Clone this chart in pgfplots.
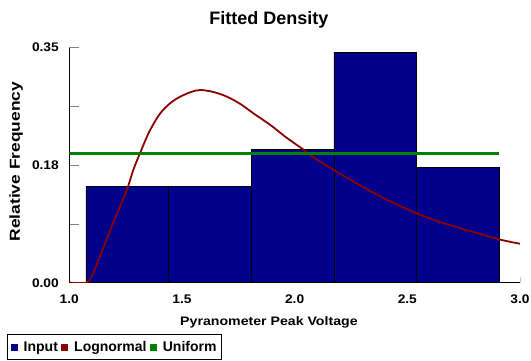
\documentclass[border=0pt]{standalone}
\usepackage{pgfplots}
\pgfplotsset{compat=1.18}
\usepackage{fontspec}
\setmainfont{Liberation Sans}
\newfontfamily\tickfont[FakeStretch=1.1]{Liberation Sans}
\newfontfamily\xlabfont[FakeStretch=1.15]{Liberation Sans}
\newfontfamily\ylabfont[FakeStretch=1.2]{Liberation Sans}
\definecolor{barblue}{RGB}{0,0,139}
\definecolor{lognred}{RGB}{139,0,0}
\definecolor{unigreen}{RGB}{0,128,0}
\begin{document}
\begin{tikzpicture}
\useasboundingbox (-69.3pt,-78.3pt) rectangle ++(531pt,361pt);
\begin{axis}[
  at={(0,0)}, anchor=south west,
  scale only axis, width=450.7pt, height=235pt,
  xmin=1, xmax=3, ymin=0, ymax=0.35,
  axis x line*=bottom, axis y line*=left,
  axis line style={black, line width=0.8pt},
  xtick={1,1.5,2,2.5,3}, xticklabels={1.0,1.5,2.0,2.5,3.0},
  ytick={0,0.0875,0.175,0.2625,0.35}, yticklabels={0.00,,0.18,,0.35},
  tick align=inside,
  xtick style={draw=gray!40, line width=0.8pt, /pgfplots/major tick length=6pt},
  ytick style={draw=gray, line width=0.6pt, /pgfplots/major tick length=10pt},
  tick label style={font=\fontsize{12.5}{14}\tickfont\bfseries},
  xticklabel style={yshift=-9pt},
  yticklabel style={xshift=-7pt},
  title={Fitted Density},
  title style={font=\fontsize{18}{20}\selectfont\bfseries, at={(axis description cs:0.443,1)}, anchor=base, yshift=17.4pt},
  xlabel={Pyranometer Peak Voltage},
  xlabel style={font=\fontsize{12.3}{14}\xlabfont\bfseries, at={(axis description cs:0.443,0)}, anchor=base, yshift=-43.3pt},
  ylabel={Relative Frequency},
  ylabel style={font=\fontsize{14.5}{16}\ylabfont\bfseries, at={(axis description cs:-0.1094,0.515)}, anchor=base},
  legend style={at={(axis description cs:-0.1382,-0.2196)}, anchor=north west, legend columns=3, draw=black, line width=0.8pt,
     font=\fontsize{14}{16}\selectfont\bfseries, inner xsep=3.5pt, inner ysep=4.5pt,
     nodes={inner xsep=1pt, inner ysep=2pt},
     /tikz/every odd column/.append style={column sep=5pt},
     /tikz/every even column/.append style={column sep=2.5pt}},
]
\addplot[ybar interval, fill=barblue, draw=black, line width=0.6pt, forget plot] coordinates {
  (1.074,0.144) (1.441,0.144) (1.808,0.199) (2.174,0.343) (2.541,0.172) (2.908,0.172)
};
\addplot[lognred, line width=1.8pt, smooth, forget plot] coordinates {
  (1.000,0.000) (1.074,0.000) (1.100,0.010) (1.136,0.039) (1.190,0.085) (1.255,0.138) (1.284,0.168)
  (1.314,0.193) (1.355,0.225) (1.403,0.252) (1.450,0.268) (1.492,0.277) (1.540,0.284) (1.581,0.287)
  (1.640,0.284) (1.700,0.277) (1.760,0.266) (1.818,0.252) (1.892,0.235) (1.960,0.217)
  (2.040,0.198) (2.100,0.183) (2.173,0.168) (2.270,0.149) (2.366,0.131) (2.450,0.117)
  (2.544,0.103) (2.640,0.091) (2.736,0.081) (2.830,0.072) (2.914,0.064) (3.000,0.058)
};
\addplot[unigreen, line width=3pt, forget plot] coordinates {(1.0,0.1917) (2.908,0.1917)};
\addlegendimage{legend image code/.code={\fill[barblue] (0pt,-3pt) rectangle (6pt,3pt);}}
\addlegendentry{Input}
\addlegendimage{legend image code/.code={\fill[lognred] (0pt,-3pt) rectangle (6pt,3pt);}}
\addlegendentry{Lognormal}
\addlegendimage{legend image code/.code={\fill[unigreen] (0pt,-3pt) rectangle (6pt,3pt);}}
\addlegendentry{Uniform}
\end{axis}
\end{tikzpicture}
\end{document}
